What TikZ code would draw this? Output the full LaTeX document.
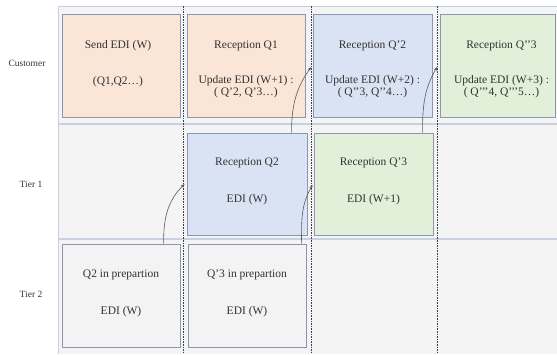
\documentclass[tikz,border=0pt]{standalone}
\usepackage{fontspec}
\setmainfont{Liberation Serif}
\usetikzlibrary{calc,arrows.meta}
\definecolor{panelfill}{RGB}{244,244,244}
\definecolor{sepcol}{RGB}{200,208,228}
\definecolor{boxborder}{RGB}{140,150,180}
\definecolor{peach}{RGB}{251,229,214}
\definecolor{lblue}{RGB}{218,227,243}
\definecolor{lgreen}{RGB}{226,240,217}
\definecolor{prepfill}{RGB}{243,243,243}
\definecolor{txtcol}{RGB}{50,50,50}
\tikzset{
  cell/.style={draw=boxborder, line width=0.9pt, minimum height=103pt, inner sep=0pt},
  cellw/.style={cell, minimum width=118pt},
  txt/.style={text=txtcol, font=\fontsize{11.5}{12}\selectfont, inner sep=0pt, align=center},
  rowlbl/.style={text=txtcol, font=\fontsize{9.5}{11}\selectfont, inner sep=0pt},
  sepline/.style={draw=sepcol, line width=1.2pt},
  divider/.style={draw=black!75, line width=0.6pt, dash pattern=on 1.6pt off 1pt},
  flow/.style={draw=black!65, line width=0.6pt, -{Stealth[length=4pt,width=3pt]}}
}
\begin{document}
\begin{tikzpicture}[x=1pt,y=-1pt]
\useasboundingbox (0,0) rectangle (557,354);
% panel
\fill[panelfill] (58,6) rectangle (557,354);
\draw[sepcol, line width=0.8pt] (58,354) -- (58,6) -- (557,6);
\draw[sepline] (58,124) -- (557,124);
\draw[sepline] (58,239) -- (557,239);
% row labels
\node[rowlbl] (lcust) at (27,63) {Customer};
\node[rowlbl] (ltier1) at (31,184) {Tier 1};
\node[rowlbl] (ltier2) at (31,294) {Tier 2};
% customer row
\node[cellw, fill=peach] (send) at (121,65.5) {};
\node[cellw, fill=peach] (recQ1) at (246,65.5) {};
\node[cell, fill=lblue, minimum width=119pt] (recQp2) at (372.5,65.5) {};
\node[cell, fill=lgreen, minimum width=115pt] (recQpp3) at (497.5,65.5) {};
% tier 1 row
\node[cell, fill=lblue, minimum width=120pt, minimum height=102pt] (recQ2) at (247,184) {};
\node[cell, fill=lgreen, minimum width=119pt, minimum height=102pt] (recQp3) at (373.5,184) {};
% tier 2 row
\node[cellw, fill=prepfill] (prepQ2) at (121,295.5) {};
\node[cellw, fill=prepfill] (prepQp3) at (247,295.5) {};
% texts
\node[txt] (t1a) at ($(send.center)+(-3,-19.5)$) {Send EDI (W)};
\node[txt] (t1b) at ($(send.center)+(-3,16.5)$) {(Q1,Q2…)};
\node[txt] (t2a) at ($(recQ1.center)+(0,-19.5)$) {Reception Q1};
\node[txt] (t2b) at ($(recQ1.center)+(0,21)$) {Update EDI (W+1) :\\( Q’2, Q’3…)};
\node[txt] (t3a) at ($(recQp2.center)+(0,-19.5)$) {Reception Q’2};
\node[txt] (t3b) at ($(recQp2.center)+(0,21)$) {Update EDI (W+2) :\\( Q’’3, Q’’4…)};
\node[txt] (t4a) at ($(recQpp3.center)+(4,-19.5)$) {Reception Q’’3};
\node[txt] (t4b) at ($(recQpp3.center)+(4,21)$) {Update EDI (W+3) :\\( Q’’’4, Q’’’5…)};
\node[txt] (t5a) at ($(recQ2.center)+(0,-21)$) {Reception Q2};
\node[txt] (t5b) at ($(recQ2.center)+(0,16)$) {EDI (W)};
\node[txt] (t6a) at ($(recQp3.center)+(0,-21)$) {Reception Q’3};
\node[txt] (t6b) at ($(recQp3.center)+(0,16)$) {EDI (W+1)};
\node[txt] (t7a) at ($(prepQ2.center)+(0,-20.5)$) {Q2 in prepartion};
\node[txt] (t7b) at ($(prepQ2.center)+(0,16.5)$) {EDI (W)};
\node[txt] (t8a) at ($(prepQp3.center)+(0,-20.5)$) {Q’3 in prepartion};
\node[txt] (t8b) at ($(prepQp3.center)+(0,16.5)$) {EDI (W)};
% dividers
\coordinate (d1t) at (183.5,6); \coordinate (d1b) at (183.5,354);
\coordinate (d2t) at (311.5,6); \coordinate (d2b) at (311.5,354);
\coordinate (d3t) at (437,6);   \coordinate (d3b) at (437,354);
\draw[divider] (d1t) -- (d1b);
\draw[divider] (d2t) -- (d2b);
\draw[divider] (d3t) -- (d3b);
% flows
\draw[flow] ($(prepQ2.north west)+(102,0)$) to[out=90, in=225] ($(recQ2.west)+(-2,0)$);
\draw[flow] ($(prepQp3.north west)+(114,0)$) to[out=90, in=240] ($(recQp3.west)+(-1,1)$);
\draw[flow] ($(recQ2.north west)+(105,0)$) to[out=90, in=235] ($(recQp2.west)+(-1.5,1.5)$);
\draw[flow] ($(recQp3.north west)+(109,0)$) to[out=90, in=240] ($(recQpp3.west)+(-2.5,1.5)$);
\end{tikzpicture}
\end{document}
